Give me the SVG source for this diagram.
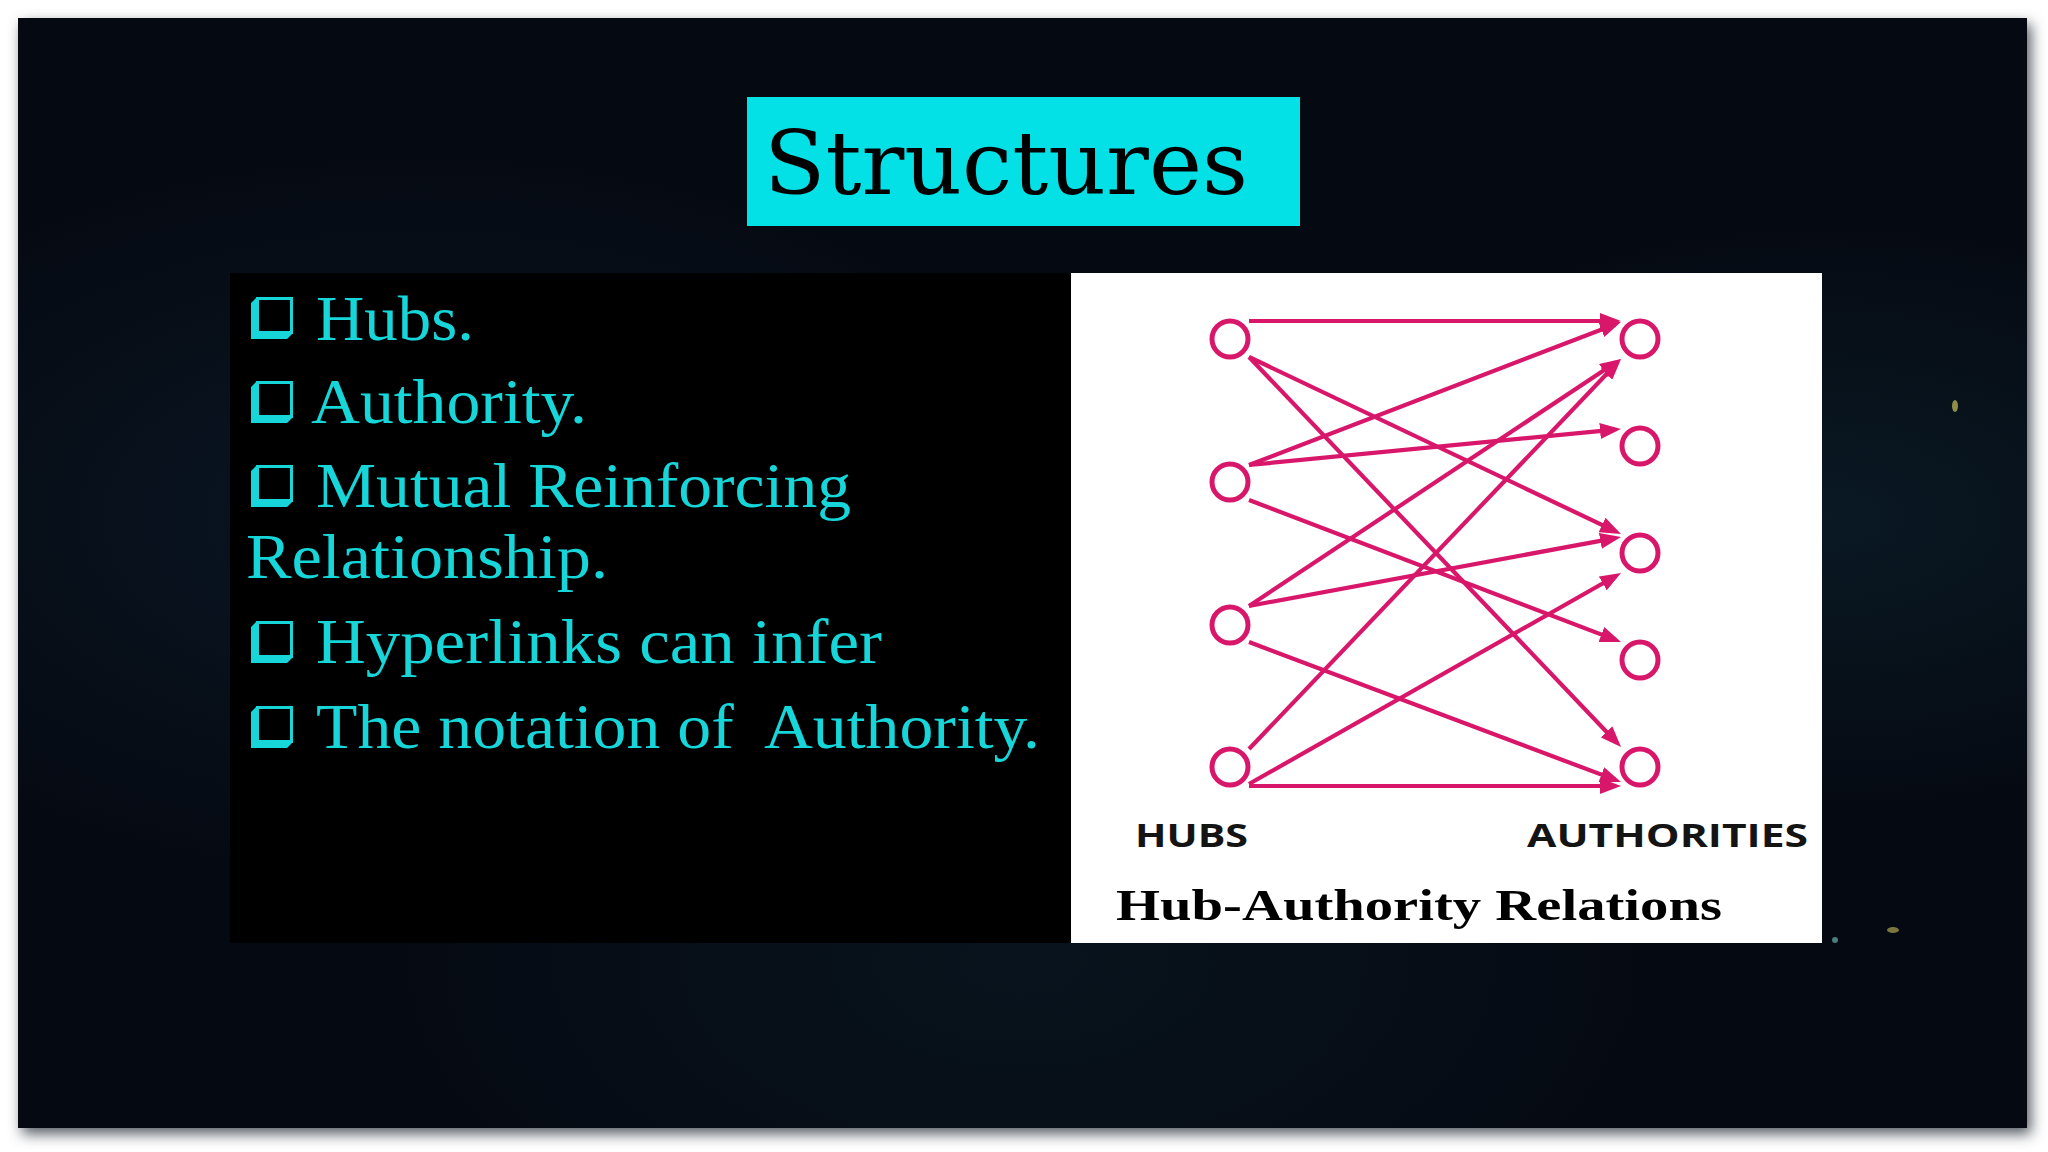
<svg xmlns="http://www.w3.org/2000/svg" width="2048" height="1152" viewBox="0 0 2048 1152">
  <defs>
    <style>
      .bul { font-family: "Liberation Serif", "Times New Roman", serif; font-size: 63px; fill: #16D6DA; white-space: pre; }
      .edge { stroke: #D8176A; stroke-width: 4.2; fill: none; marker-end: url(#arrow); }
      .node { fill: #FFFFFF; stroke: #D8176A; stroke-width: 5; }
      .lbl { font-family: "Open Sans", "DejaVu Sans", sans-serif; font-weight: bold; font-size: 33px; fill: #141414; }
    </style>
    <marker id="arrow" markerUnits="userSpaceOnUse" markerWidth="21" markerHeight="16" refX="15" refY="8" orient="auto">
      <path d="M0,0 L21,8 L0,16 z" fill="#D8176A"/>
    </marker>
    <filter id="shadow" x="-5%" y="-5%" width="110%" height="110%">
      <feGaussianBlur stdDeviation="7"/>
    </filter>
    <radialGradient id="glow1" cx="0.2" cy="0.45" r="0.35">
      <stop offset="0" stop-color="#10263a" stop-opacity="0.45"/>
      <stop offset="1" stop-color="#10263a" stop-opacity="0"/>
    </radialGradient>
    <radialGradient id="glow2" cx="0.9" cy="0.45" r="0.28">
      <stop offset="0" stop-color="#0f2c3a" stop-opacity="0.45"/>
      <stop offset="1" stop-color="#0f2c3a" stop-opacity="0"/>
    </radialGradient>
    <radialGradient id="glow3" cx="0.5" cy="0.85" r="0.35">
      <stop offset="0" stop-color="#0c202c" stop-opacity="0.45"/>
      <stop offset="1" stop-color="#0c202c" stop-opacity="0"/>
    </radialGradient>
    <g id="cb">
      <rect x="6.5" y="1.5" width="34" height="34" fill="none" stroke="#16D6DA" stroke-width="3"/>
      <polygon points="5,1 0,6 0,42 36,42 41,37 5,37" fill="#16D6DA"/>
    </g>
  </defs>

  <!-- background -->
  <rect x="0" y="0" width="2048" height="1152" fill="#FFFFFF"/>
  <rect x="22" y="24" width="2009" height="1110" fill="#555b63" filter="url(#shadow)"/>
  <rect x="18" y="18" width="2009" height="1110" fill="#050911"/>
  <rect x="18" y="18" width="2009" height="1110" fill="url(#glow1)"/>
  <rect x="18" y="18" width="2009" height="1110" fill="url(#glow2)"/>
  <rect x="18" y="18" width="2009" height="1110" fill="url(#glow3)"/>
  <ellipse cx="1955" cy="406" rx="3" ry="6" fill="#c9c25a" opacity="0.7"/>
  <ellipse cx="1893" cy="930" rx="6" ry="3" fill="#c9c25a" opacity="0.6"/>
  <circle cx="1835" cy="940" r="3" fill="#7fc8c8" opacity="0.6"/>

  <!-- title -->
  <g id="title">
    <rect x="747" y="97" width="553" height="129" fill="#03E0E6"/>
    <text x="764" y="194" font-family="DejaVu Serif, Liberation Serif, serif" font-size="88" fill="#000000" textLength="484" lengthAdjust="spacingAndGlyphs">Structures</text>
  </g>

  <!-- bullet panel -->
  <g id="bullets">
    <rect x="230" y="273" width="841" height="670" fill="#000000"/>
    <use href="#cb" x="251" y="297"/>
    <text class="bul" x="316" y="340" textLength="158" lengthAdjust="spacingAndGlyphs">Hubs.</text>
    <use href="#cb" x="251" y="381"/>
    <text class="bul" x="311" y="423" textLength="276" lengthAdjust="spacingAndGlyphs">Authority.</text>
    <use href="#cb" x="251" y="465"/>
    <text class="bul" x="316" y="507" textLength="535" lengthAdjust="spacingAndGlyphs">Mutual Reinforcing</text>
    <text class="bul" x="246" y="578" textLength="362" lengthAdjust="spacingAndGlyphs">Relationship.</text>
    <use href="#cb" x="251" y="621"/>
    <text class="bul" x="316" y="663" textLength="566" lengthAdjust="spacingAndGlyphs">Hyperlinks can infer</text>
    <use href="#cb" x="251" y="706"/>
    <text class="bul" x="316" y="748" textLength="724" lengthAdjust="spacingAndGlyphs">The notation of  Authority.</text>
  </g>

  <!-- diagram panel -->
  <rect id="diagram-panel" x="1071" y="273" width="751" height="670" fill="#FFFFFF"/>

  <g id="connectors">
    <line class="edge" x1="1249" y1="321" x2="1615" y2="321"/>
    <line class="edge" x1="1249" y1="357" x2="1615.6" y2="531.4"/>
    <line class="edge" x1="1249" y1="357" x2="1616.9" y2="742.7"/>
    <line class="edge" x1="1249" y1="465" x2="1615.4" y2="324.2"/>
    <line class="edge" x1="1249" y1="465" x2="1615" y2="429.6"/>
    <line class="edge" x1="1249" y1="500" x2="1615.4" y2="639.9"/>
    <line class="edge" x1="1249" y1="606" x2="1616" y2="362.3"/>
    <line class="edge" x1="1249" y1="606" x2="1615.1" y2="538.1"/>
    <line class="edge" x1="1249" y1="642" x2="1615.4" y2="779.9"/>
    <line class="edge" x1="1249" y1="749" x2="1616.9" y2="363.3"/>
    <line class="edge" x1="1249" y1="784" x2="1615.8" y2="576"/>
    <line class="edge" x1="1249" y1="786" x2="1615" y2="786"/>
  </g>

  <g id="hub1"><circle class="node" cx="1230" cy="339" r="18"/></g>
  <g id="hub2"><circle class="node" cx="1230" cy="482" r="18"/></g>
  <g id="hub3"><circle class="node" cx="1230" cy="625" r="18"/></g>
  <g id="hub4"><circle class="node" cx="1230" cy="767" r="18"/></g>

  <g id="auth1"><circle class="node" cx="1640" cy="339" r="18"/></g>
  <g id="auth2"><circle class="node" cx="1640" cy="446" r="18"/></g>
  <g id="auth3"><circle class="node" cx="1640" cy="553" r="18"/></g>
  <g id="auth4"><circle class="node" cx="1640" cy="660" r="18"/></g>
  <g id="auth5"><circle class="node" cx="1640" cy="767" r="18"/></g>

  <g id="labels">
    <text class="lbl" x="1135" y="847" textLength="113" lengthAdjust="spacingAndGlyphs">HUBS</text>
    <text class="lbl" x="1527" y="847" textLength="281" lengthAdjust="spacingAndGlyphs">AUTHORITIES</text>
    <text x="1116" y="920" font-family="Liberation Serif, Times New Roman, serif" font-weight="bold" font-size="45" fill="#000000" textLength="606" lengthAdjust="spacingAndGlyphs">Hub-Authority Relations</text>
  </g>
</svg>
